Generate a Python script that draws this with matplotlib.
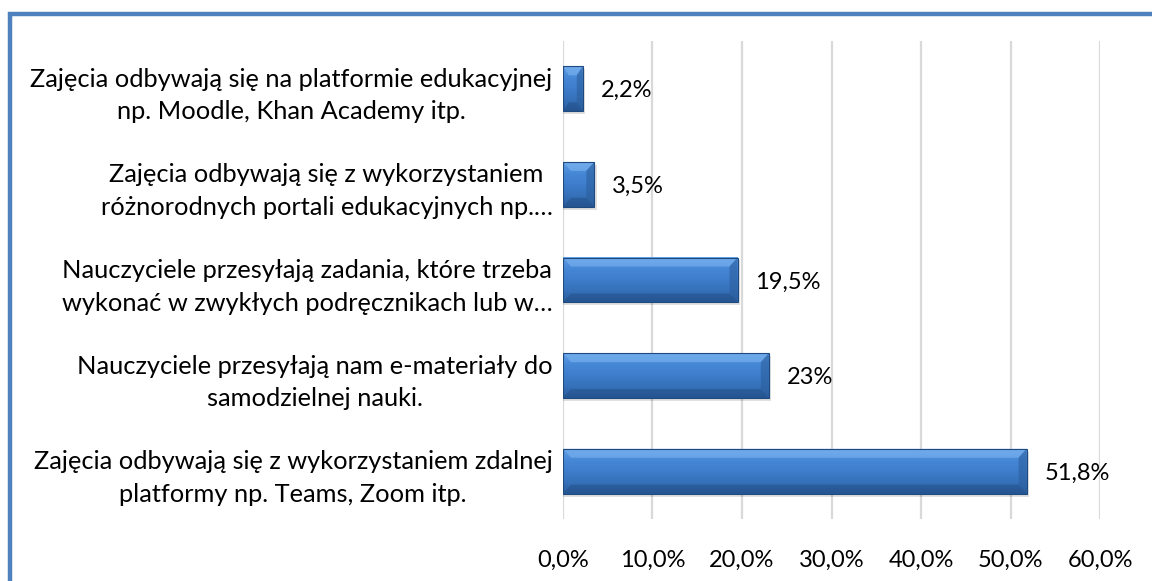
import numpy as np
import matplotlib
matplotlib.use("Agg")
import matplotlib.pyplot as plt
from matplotlib.patches import Rectangle, Polygon
from matplotlib.colors import LinearSegmentedColormap

plt.rcParams["font.family"] = ["Lato", "DejaVu Sans"]

# survey answers, bottom to top
labels = [
    "Zajęcia odbywają się z wykorzystaniem zdalnej\nplatformy np. Teams, Zoom itp.",
    "Nauczyciele przesyłają nam e-materiały do\nsamodzielnej nauki.",
    "Nauczyciele przesyłają zadania, które trzeba\nwykonać w zwykłych podręcznikach lub w…",
    "Zajęcia odbywają się z wykorzystaniem\nróżnorodnych portali edukacyjnych np.…",
    "Zajęcia odbywają się na platformie edukacyjnej\nnp. Moodle, Khan Academy itp.",
]
values = [51.8, 23.0, 19.5, 3.5, 2.2]
value_texts = ["51,8%", "23%", "19,5%", "3,5%", "2,2%"]
ticks = [0, 10, 20, 30, 40, 50, 60]

fig = plt.figure(figsize=(11.52, 5.81), dpi=100)
ax = fig.add_axes([0.4887, 0.1067, 0.4662, 0.8227])

# blue frame around the chart (left and top edges visible)
fig.add_artist(Rectangle((10 / 1152, -0.2), 1.5, 1.2 - 13.5 / 581,
                         transform=fig.transFigure, fill=False,
                         edgecolor="#4F81BD", linewidth=3.2, zorder=10))

grad = LinearSegmentedColormap.from_list(
    "bevel", ["#2a5c9c", "#3671b9", "#3e7dcb", "#4688d6", "#5f9de4"])
h = 0.47
ypos = np.arange(len(values))

for y, v in zip(ypos, values):
    y0, y1 = y - h / 2, y + h / 2
    # soft shadow
    ax.add_patch(Rectangle((0, y0 - 0.03), v + 0.25, h, facecolor="#000000",
                           alpha=0.12, edgecolor="none", zorder=2))
    # vertical gradient fill
    g = np.linspace(0, 1, 64).reshape(-1, 1)
    ax.imshow(g, cmap=grad, aspect="auto", origin="lower",
              extent=(0, v, y0, y1), zorder=3, interpolation="bilinear")
    # bevel facets at the ends
    dx = min(0.9, v * 0.3)
    dy = h * 0.2
    ax.add_patch(Polygon([(0, y1), (v, y1), (v - dx, y1 - dy), (dx, y1 - dy)],
                         closed=True, facecolor="#7ab3f0", alpha=0.6,
                         edgecolor="none", zorder=4))
    ax.add_patch(Polygon([(v, y1), (v, y0), (v - dx, y0 + dy), (v - dx, y1 - dy)],
                         closed=True, facecolor="#2c5f9e", alpha=0.6,
                         edgecolor="none", zorder=4))
    ax.add_patch(Polygon([(0, y0), (v, y0), (v - dx, y0 + dy), (dx, y0 + dy)],
                         closed=True, facecolor="#1f4a80", alpha=0.4,
                         edgecolor="none", zorder=4))
    ax.add_patch(Rectangle((0, y0), v, h, fill=False, edgecolor="#1f4a80",
                           linewidth=0.8, zorder=5))

for y, v, t in zip(ypos, values, value_texts):
    ax.text(v + 2.0, y - 0.02, t, va="center", ha="left", fontsize=17,
            color="#000000")

ax.set_xlim(0, 60)
ax.set_ylim(-0.5, len(values) - 0.5)
ax.set_xticks(ticks)
ax.set_xticklabels([f"{t:.1f}%".replace(".", ",") for t in ticks], fontsize=17)
ax.set_yticks(ypos)
ax.set_yticklabels(labels, fontsize=18.3, multialignment="center",
                   linespacing=1.5)
ax.tick_params(axis="both", length=0)
ax.tick_params(axis="x", pad=22)
ax.tick_params(axis="y", pad=7.5)
ax.xaxis.grid(True, color="#d9d9d9", linewidth=1.6)
ax.set_axisbelow(True)
for s in ax.spines.values():
    s.set_visible(False)

fig.savefig("out.png", dpi=100)
